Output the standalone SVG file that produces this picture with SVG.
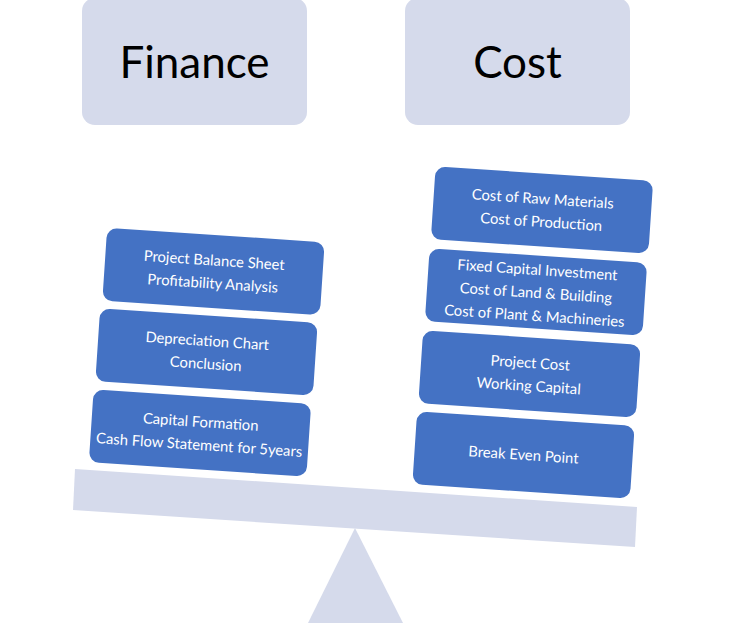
<svg xmlns="http://www.w3.org/2000/svg" width="735" height="623" viewBox="0 0 735 623">
<style>
.head{fill:#d5daeb}
.headt{font-family:Lato,"Liberation Sans",sans-serif;font-size:44px;fill:#000;text-anchor:middle}
.box{fill:#4472c4}
.bt{font-family:Lato,"Liberation Sans",sans-serif;font-size:14.8px;fill:#fff;text-anchor:middle}
.scale{fill:#d5daeb}
</style>
<rect width="735" height="623" fill="#fff"/>
<g id="finance">
<rect class="head" x="82" y="-2" width="225" height="127" rx="13"/>
<text class="headt" x="194.5" y="78">Finance</text>
</g>
<g id="cost">
<rect class="head" x="405" y="-2" width="225" height="127" rx="13"/>
<text class="headt" x="517.5" y="78">Cost</text>
</g>
<g id="beam">
<polygon class="scale" points="75,469 637,507 635,547 73,510"/>
</g>
<g id="fulcrum">
<polygon class="scale" points="355,528 403,623 308,623"/>
</g>
<g id="connectors"></g>
<g id="l1" transform="translate(213.5,271.5) rotate(3.8)">
<rect class="box" x="-109" y="-36.5" width="218" height="73" rx="10"/>
<text class="bt" y="-6">Project Balance Sheet</text>
<text class="bt" y="17">Profitability Analysis</text>
</g>
<g id="l2" transform="translate(206.5,352) rotate(3.8)">
<rect class="box" x="-109" y="-36.5" width="218" height="73" rx="10"/>
<text class="bt" y="-6">Depreciation Chart</text>
<text class="bt" y="17">Conclusion</text>
</g>
<g id="l3" transform="translate(200,433) rotate(3.8)">
<rect class="box" x="-109" y="-36.5" width="218" height="73" rx="10"/>
<text class="bt" y="-6">Capital Formation</text>
<text class="bt" y="17">Cash Flow Statement for 5years</text>
</g>
<g id="r1" transform="translate(542,210) rotate(3.8)">
<rect class="box" x="-109" y="-36.5" width="218" height="73" rx="10"/>
<text class="bt" y="-6">Cost of Raw Materials</text>
<text class="bt" y="17">Cost of Production</text>
</g>
<g id="r2" transform="translate(536,292) rotate(3.8)">
<rect class="box" x="-109" y="-36.5" width="218" height="73" rx="10"/>
<text class="bt" y="-17">Fixed Capital Investment</text>
<text class="bt" y="6">Cost of Land &amp; Building</text>
<text class="bt" y="29">Cost of Plant &amp; Machineries</text>
</g>
<g id="r3" transform="translate(529.5,374) rotate(3.8)">
<rect class="box" x="-109" y="-36.5" width="218" height="73" rx="10"/>
<text class="bt" y="-6">Project Cost</text>
<text class="bt" y="17">Working Capital</text>
</g>
<g id="r4" transform="translate(523.5,455) rotate(3.8)">
<rect class="box" x="-109" y="-36.5" width="218" height="73" rx="10"/>
<text class="bt" y="5">Break Even Point</text>
</g>
</svg>
